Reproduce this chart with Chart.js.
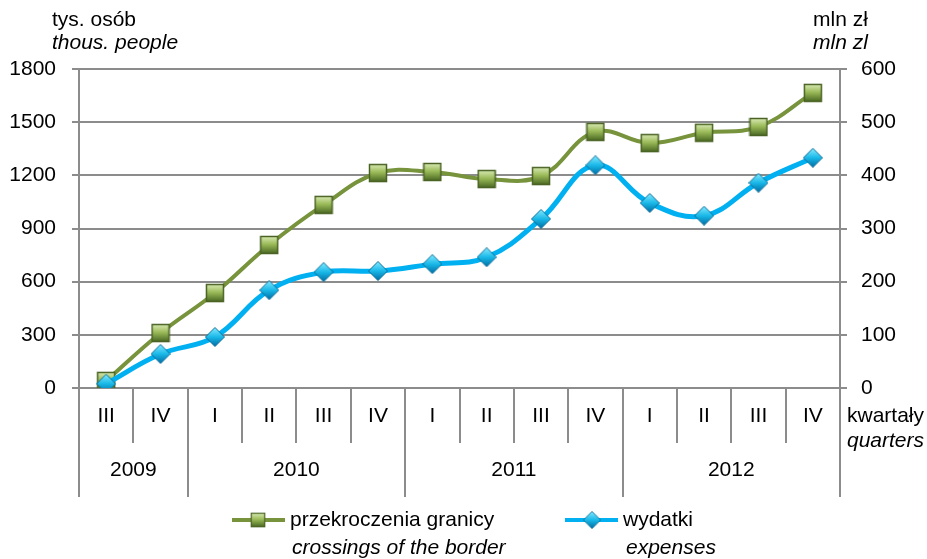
<!DOCTYPE html>
<html>
<head>
<meta charset="utf-8">
<script src="https://cdn.jsdelivr.net/npm/chart.js"></script>
<style>
  html, body { margin: 0; padding: 0; background: #fff; }
  #wrap { width: 927px; height: 559px; }
</style>
</head>
<body>
<div id="wrap"><canvas id="chart" width="927" height="559"></canvas></div>
<script>
// dane
const quarters = ['III', 'IV', 'I', 'II', 'III', 'IV', 'I', 'II', 'III', 'IV', 'I', 'II', 'III', 'IV'];
const years = ['2009', '2010', '2011', '2012'];
const quartersPerYear = [2, 4, 4, 4];
const crossings = [40, 310, 536, 807, 1033, 1213, 1219, 1179, 1196, 1445, 1382, 1440, 1473, 1665];
const expenses = [8, 64, 96, 184, 218, 220, 233, 246, 318, 419, 348, 324, 386, 433];
const leftTicks = [0, 300, 600, 900, 1200, 1500, 1800];
const rightTicks = [0, 100, 200, 300, 400, 500, 600];

const FONT = '"Liberation Sans", Arial, sans-serif';
const FS = 21;
const GRID = '#8c8c8c';

// znaczniki z gradientem
function squareMarker() {
    const c = document.createElement('canvas');
    c.width = 20; c.height = 20;
    const g = c.getContext('2d');
    const grad = g.createLinearGradient(0, 2, 0, 18);
    grad.addColorStop(0, '#d4e6ac');
    grad.addColorStop(0.45, '#9bbb59');
    grad.addColorStop(1, '#4f6d25');
    g.fillStyle = grad;
    g.fillRect(1, 1, 18, 18);
    g.strokeStyle = '#4a6324';
    g.lineWidth = 1.5;
    g.strokeRect(1.5, 1.5, 17, 17);
    return c;
}
function diamondMarker() {
    const c = document.createElement('canvas');
    c.width = 20; c.height = 20;
    const g = c.getContext('2d');
    const grad = g.createLinearGradient(0, 1, 0, 19);
    grad.addColorStop(0, '#7fe8ff');
    grad.addColorStop(0.5, '#19b8e8');
    grad.addColorStop(1, '#0070a8');
    g.beginPath();
    g.moveTo(10, 0.5); g.lineTo(19.5, 10); g.lineTo(10, 19.5); g.lineTo(0.5, 10); g.closePath();
    g.fillStyle = grad;
    g.fill();
    g.strokeStyle = '#0a6f9a';
    g.lineWidth = 1;
    g.stroke();
    return c;
}
const sq = squareMarker();
const dm = diamondMarker();

// os X dwupoziomowa, opisy osi i legenda
const decorations = {
    id: 'decorations',
    afterDraw(chart) {
        const ctx = chart.ctx;
        const x = chart.scales.x;
        const area = chart.chartArea;
        const step = (area.right - area.left) / quarters.length;
        ctx.save();
        ctx.strokeStyle = GRID;
        ctx.lineWidth = 2;
        // separatory kwartalow
        const yearStarts = [0];
        quartersPerYear.reduce((acc, n) => { yearStarts.push(acc + n); return acc + n; }, 0);
        for (let i = 0; i <= quarters.length; i++) {
            const px = Math.round(area.left + i * step);
            const isYear = yearStarts.includes(i);
            ctx.beginPath();
            ctx.moveTo(px, area.bottom);
            ctx.lineTo(px, isYear ? 497 : 443);
            ctx.stroke();
        }
        ctx.fillStyle = '#000';
        ctx.font = FS + 'px ' + FONT;
        ctx.textAlign = 'center';
        ctx.textBaseline = 'middle';
        quarters.forEach((q, i) => {
            ctx.fillText(q, x.getPixelForValue(i), 416);
        });
        years.forEach((y, i) => {
            const a = area.left + yearStarts[i] * step;
            const b = area.left + yearStarts[i + 1] * step;
            ctx.fillText(y, (a + b) / 2, 470);
        });

        // opisy osi
        ctx.textAlign = 'left';
        ctx.fillText('tys. osób', 52, 20);
        ctx.fillText('mln zł', 813, 20);
        ctx.fillText('kwartały', 847, 416);
        ctx.font = 'italic ' + FS + 'px ' + FONT;
        ctx.fillText('thous. people', 52, 43);
        ctx.fillText('mln zl', 813, 43);
        ctx.fillText('quarters', 847, 441);

        // legenda
        ctx.lineWidth = 4;
        ctx.strokeStyle = '#77933c';
        ctx.beginPath(); ctx.moveTo(232, 520); ctx.lineTo(285, 520); ctx.stroke();
        ctx.drawImage(sq, 258 - 8, 520 - 8, 16, 16);
        ctx.strokeStyle = '#00b0f0';
        ctx.beginPath(); ctx.moveTo(565, 520); ctx.lineTo(618, 520); ctx.stroke();
        ctx.drawImage(dm, 592 - 9, 520 - 9, 18, 18);
        ctx.font = FS + 'px ' + FONT;
        ctx.fillText('przekroczenia granicy', 290, 520);
        ctx.fillText('wydatki', 623, 520);
        ctx.font = 'italic ' + FS + 'px ' + FONT;
        ctx.fillText('crossings of the border', 292, 548);
        ctx.fillText('expenses', 626, 548);
        ctx.restore();
    }
};

new Chart(document.getElementById('chart'), {
    type: 'line',
    data: {
        labels: quarters,
        datasets: [
            {
                label: 'przekroczenia granicy',
                data: crossings,
                yAxisID: 'y',
                borderColor: '#77933c',
                borderWidth: 4,
                tension: 0.4,
                pointStyle: sq,
                order: 1
            },
            {
                label: 'wydatki',
                data: expenses,
                yAxisID: 'y2',
                borderColor: '#00b0f0',
                borderWidth: 5,
                tension: 0.4,
                pointStyle: dm,
                order: 0
            }
        ]
    },
    options: {
        responsive: false,
        animation: false,
        layout: { padding: { top: 69, left: 0, right: 0, bottom: 0 } },
        plugins: {
            legend: { display: false },
            tooltip: { enabled: false }
        },
        scales: {
            x: {
                offset: true,
                grid: { display: false },
                border: { display: false },
                ticks: { display: false },
                afterFit: s => { s.height = 171; }
            },
            y: {
                position: 'left',
                min: 0,
                max: 1800,
                afterBuildTicks: s => { s.ticks = leftTicks.map(v => ({ value: v })); },
                grid: { color: GRID, lineWidth: 2, tickLength: 7 },
                border: { color: GRID, width: 2 },
                ticks: {
                    color: '#000',
                    font: { family: FONT, size: FS },
                    padding: 16,
                    callback: v => String(v)
                },
                afterFit: s => { s.width = 79; }
            },
            y2: {
                position: 'right',
                min: 0,
                max: 600,
                afterBuildTicks: s => { s.ticks = rightTicks.map(v => ({ value: v })); },
                grid: { drawOnChartArea: false, color: GRID, lineWidth: 2, tickLength: 7 },
                border: { color: GRID, width: 2 },
                ticks: {
                    color: '#000',
                    font: { family: FONT, size: FS },
                    padding: 14,
                    callback: v => String(v)
                },
                afterFit: s => { s.width = 87; }
            }
        }
    },
    plugins: [decorations]
});
</script>
</body>
</html>
